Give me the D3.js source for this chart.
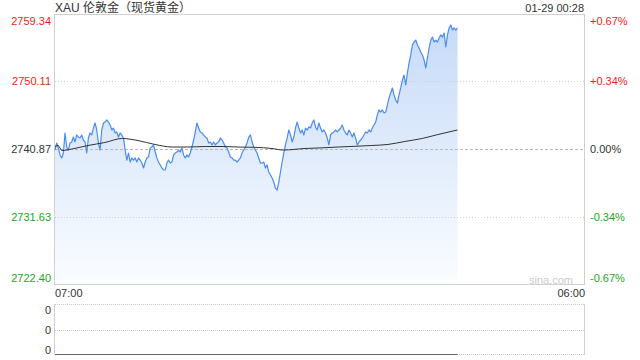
<!DOCTYPE html>
<html>
<head>
<meta charset="utf-8">
<script src="https://cdn.jsdelivr.net/npm/d3@7"></script>
<style>
body { margin: 0; background: #fff; }
svg text { font-family: "Liberation Sans", Arial, "Noto Sans CJK SC", sans-serif; }
</style>
</head>
<body>
<svg id="chart" width="640" height="360"></svg>
<script>
// chart data
const title = "XAU 伦敦金（现货黄金）";
const stamp = "01-29 00:28";
const prevClose = 2740.87;
const priceTicks = [2759.34, 2750.11, 2740.87, 2731.63, 2722.40];
const pctTicks = ["+0.67%", "+0.34%", "0.00%", "-0.34%", "-0.67%"];
const timeLabels = ["07:00", "06:00"];
const sessionStart = "07:00";
const sessionEnd = "06:00";
const lastTime = "00:28";

// minute prices, evenly spaced from 07:00 to 00:28
const prices = [
  2740.73, 2741.69, 2741.01, 2740.05, 2739.64, 2740.32, 2743.06, 2741.14, 2740.73, 2741.69,
  2741.83, 2742.51, 2741.83, 2742.79, 2742.51, 2742.38, 2742.79, 2742.10, 2741.83, 2740.32,
  2742.38, 2743.06, 2742.79, 2743.74, 2744.43, 2743.47, 2741.69, 2740.73, 2743.47, 2744.43,
  2744.56, 2744.84, 2744.56, 2744.15, 2743.47, 2743.74, 2743.06, 2743.20, 2742.51, 2743.06,
  2742.79, 2742.38, 2740.73, 2739.36, 2740.32, 2739.09, 2739.64, 2739.36, 2739.64, 2739.09,
  2739.64, 2739.36, 2738.95, 2738.27, 2739.09, 2739.64, 2739.78, 2741.01, 2741.14, 2741.42,
  2740.46, 2739.64, 2739.09, 2738.68, 2738.27, 2738.00, 2738.00, 2738.95, 2739.36, 2738.95,
  2739.09, 2740.05, 2740.32, 2740.46, 2740.73, 2740.46, 2741.01, 2740.05, 2739.64, 2740.05,
  2739.78, 2740.32, 2741.14, 2742.10, 2743.20, 2744.43, 2743.74, 2743.20, 2743.06, 2742.79,
  2742.51, 2742.38, 2741.69, 2741.83, 2741.42, 2741.83, 2741.42, 2741.69, 2741.83, 2742.38,
  2742.10, 2741.69, 2741.14, 2741.01, 2740.46, 2739.78, 2739.64, 2739.36, 2739.36, 2739.09,
  2739.36, 2739.64, 2740.32, 2740.73, 2741.14, 2741.69, 2742.51, 2742.79, 2741.83, 2741.14,
  2740.73, 2740.32, 2739.64, 2738.95,
  2738.95, 2739.09, 2738.27, 2738.68, 2737.72, 2737.31, 2736.90, 2736.35, 2735.53, 2735.26,
  2736.35, 2737.72, 2739.09, 2740.32, 2741.42, 2742.38, 2743.47, 2742.79, 2741.83, 2742.51,
  2743.74, 2744.56, 2743.74, 2743.06, 2743.47, 2742.79, 2743.74, 2743.47, 2743.88, 2743.74,
  2744.43, 2744.84, 2743.88, 2743.47, 2744.43, 2743.74, 2743.20, 2743.47, 2743.06, 2742.38,
  2741.42, 2742.79, 2743.06, 2743.20, 2743.47, 2743.20, 2743.47, 2743.74, 2744.15, 2743.47,
  2743.06, 2742.79, 2743.47, 2743.06, 2742.51, 2743.06, 2742.38, 2741.42, 2741.83, 2742.10,
  2742.38, 2742.79, 2743.20, 2743.06, 2743.47, 2743.20, 2743.74, 2744.15, 2744.56, 2745.52,
  2746.21, 2745.93, 2746.21, 2745.80, 2745.93, 2746.89, 2747.85, 2748.53, 2749.22, 2748.26,
  2747.57, 2747.16, 2748.26, 2749.22, 2750.31, 2750.99, 2749.63, 2751.27, 2752.64, 2753.73,
  2755.10, 2755.51, 2755.78, 2755.10, 2754.69, 2754.14, 2753.73, 2753.05, 2751.95, 2753.32,
  2754.69, 2755.78, 2756.19, 2755.51, 2755.78, 2755.51, 2756.06, 2756.47, 2756.19, 2756.74,
  2754.83, 2756.47, 2757.43, 2757.84, 2757.15, 2757.43, 2757.15, 2757.43
];

// average price line
const avgTimes = [
  "07:00", "07:08", "07:18", "07:44", "08:26", "09:10", "09:55", "10:36", "11:20", "12:05",
  "12:46", "13:31", "14:15", "14:56", "15:41", "16:25", "16:54", "17:51", "18:35", "19:17",
  "20:01", "20:45", "21:27", "22:11", "22:56", "23:37", "00:28"
];
const avgPrices = [
  2741.21, 2741.35, 2740.66, 2740.87, 2741.35, 2741.76, 2742.31, 2742.03, 2741.49, 2741.14,
  2741.14, 2741.21, 2741.21, 2741.14, 2741.10, 2740.94, 2740.73, 2740.94, 2741.03, 2741.14,
  2741.24, 2741.35, 2741.49, 2741.90, 2742.31, 2742.85, 2743.47
];

// volume (all zero)
const volTimes = ["07:00", "00:28"];
const volValues = [0, 0];
const volTickLabels = ["0", "0", "0"];

const svg = d3.select("#chart");
const red = "#f21d1d";
const green = "#1ca51c";
const dark = "#333";

const parse = d3.timeParse("%Y-%m-%d %H:%M");
function toDate(hm) {
  const d = parse("2025-01-28 " + hm);
  if (d.getHours() < 7) d.setDate(d.getDate() + 1);
  return d;
}

const x = d3.scaleTime()
  .domain([toDate(sessionStart), toDate(sessionEnd)])
  .range([55, 585]);
const y = d3.scaleLinear()
  .domain([priceTicks[priceTicks.length - 1], priceTicks[0]])
  .range([284, 14]);
const yVol = d3.scaleLinear().domain([0, 1]).range([354, 304]);

const t0 = +toDate(sessionStart), t1 = +toDate(lastTime);
const idx = d3.scaleLinear().domain([0, prices.length - 1]).range([t0, t1]);
const series = prices.map((p, i) => ({ t: new Date(idx(i)), p: p }));

// gradient for the area
const grad = svg.append("defs").append("linearGradient")
  .attr("id", "fillGrad")
  .attr("gradientUnits", "userSpaceOnUse")
  .attr("x1", 0).attr("y1", 14).attr("x2", 0).attr("y2", 284);
grad.append("stop").attr("offset", "0%").attr("stop-color", "#c4d9f8");
grad.append("stop").attr("offset", "100%").attr("stop-color", "#fbfdff");

// frame
svg.append("rect")
  .attr("x", 54.5).attr("y", 14.5)
  .attr("width", 530).attr("height", 270)
  .attr("fill", "none").attr("stroke", "#d0d0d0");

// area + price line
svg.append("path")
  .datum(series)
  .attr("fill", "url(#fillGrad)")
  .attr("d", d3.area().x(d => x(d.t)).y0(284).y1(d => y(d.p)));

// grid lines
[1, 2, 3].forEach(i => {
  svg.append("line")
    .attr("x1", 55).attr("x2", 584)
    .attr("y1", Math.round(y(priceTicks[i])) + 0.5)
    .attr("y2", Math.round(y(priceTicks[i])) + 0.5)
    .attr("stroke", i === 2 ? "#b8b8b8" : "#cfcfcf")
    .attr("stroke-dasharray", i === 2 ? "3,2" : "1,2");
});

svg.append("path")
  .datum(series)
  .attr("fill", "none")
  .attr("stroke", "#4a8cf0")
  .attr("stroke-width", 1.2)
  .attr("stroke-linejoin", "round")
  .attr("d", d3.line().x(d => x(d.t)).y(d => y(d.p)));

svg.append("path")
  .datum(avgTimes.map((t, i) => ({ t: toDate(t), p: avgPrices[i] })))
  .attr("fill", "none")
  .attr("stroke", "#333")
  .attr("stroke-width", 1)
  .attr("d", d3.line().curve(d3.curveMonotoneX).x(d => x(d.t)).y(d => y(d.p)));

// price labels (left) and percent labels (right)
const colorOf = v => v > prevClose + 0.001 ? red : (v < prevClose - 0.001 ? green : dark);
priceTicks.forEach((v, i) => {
  const off = i === 0 ? 10.5 : (i === priceTicks.length - 1 ? -2.5 : 4);
  svg.append("text")
    .attr("x", 51).attr("y", y(v) + off)
    .attr("text-anchor", "end")
    .attr("font-size", 11)
    .attr("fill", colorOf(v))
    .text(v.toFixed(2));
  svg.append("text")
    .attr("x", 590).attr("y", y(v) + off)
    .attr("font-size", 11)
    .attr("fill", colorOf(v))
    .text(pctTicks[i]);
});

// title and time stamp
svg.append("text")
  .attr("x", 55).attr("y", 12)
  .attr("font-size", 12).attr("fill", dark)
  .text(title);
svg.append("text")
  .attr("x", 584).attr("y", 12)
  .attr("text-anchor", "end")
  .attr("font-size", 11).attr("fill", dark)
  .text(stamp);

svg.append("text")
  .attr("x", 573).attr("y", 284)
  .attr("text-anchor", "end")
  .attr("font-size", 11).attr("fill", "#cccccc")
  .text("sina.com");

// time labels
svg.append("text")
  .attr("x", x(toDate(sessionStart))).attr("y", 297)
  .attr("font-size", 11).attr("fill", dark)
  .text(timeLabels[0]);
svg.append("text")
  .attr("x", x(toDate(sessionEnd))).attr("y", 297)
  .attr("text-anchor", "end")
  .attr("font-size", 11).attr("fill", dark)
  .text(timeLabels[1]);

// volume panel
[304, 330, 354].forEach(yy => {
  svg.append("line")
    .attr("x1", 55).attr("x2", 584)
    .attr("y1", yy + 0.5).attr("y2", yy + 0.5)
    .attr("stroke", "#c8c8c8")
    .attr("stroke-dasharray", "1,1");
});
[54.5, 584.5].forEach(xx => {
  svg.append("line")
    .attr("x1", xx).attr("x2", xx)
    .attr("y1", 304).attr("y2", 355)
    .attr("stroke", "#d0d0d0");
});
svg.append("path")
  .datum(volTimes.map((t, i) => ({ t: toDate(t), v: volValues[i] })))
  .attr("fill", "none")
  .attr("stroke", "#666")
  .attr("stroke-width", 1)
  .attr("d", d3.line().x(d => x(d.t)).y(d => yVol(d.v) + 0.5));

volTickLabels.forEach((s, i) => {
  svg.append("text")
    .attr("x", 51).attr("y", [314, 334, 354][i])
    .attr("text-anchor", "end")
    .attr("font-size", 11).attr("fill", dark)
    .text(s);
});
</script>
</body>
</html>
